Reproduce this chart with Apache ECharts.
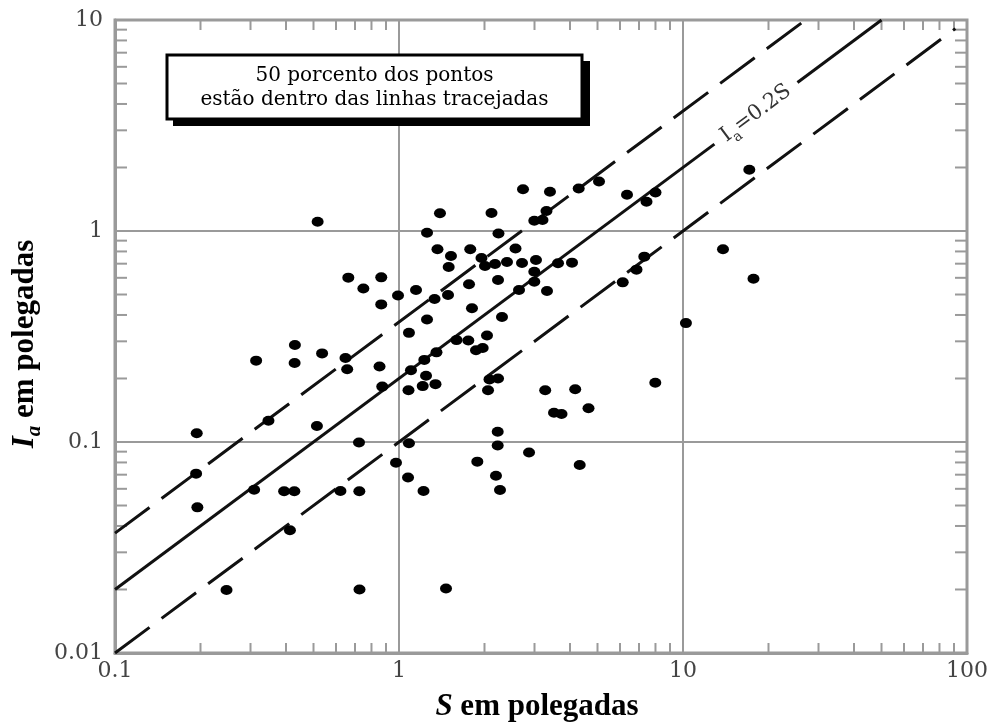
<!DOCTYPE html>
<html>
<head>
<meta charset="utf-8">
<script src="https://cdn.jsdelivr.net/npm/echarts@6/dist/echarts.min.js"></script>
<style>
html,body{margin:0;padding:0;background:#fff;}
#c{width:999px;height:726px;}
</style>
</head>
<body>
<div id="c"></div>
<script>
// ---- data ----
const sValues = [
  0.517,0.663,0.866,0.749,0.992,0.866,0.430,0.314,0.429,0.536,
  0.648,0.657,0.854,0.873,0.194,0.347,0.514,0.723,0.976,0.193,
  0.195,0.309,0.394,0.428,0.622,0.725,0.413,0.247,0.726,
  1.084,1.080,1.102,1.084,1.076,1.220,1.148,1.255,1.394,1.366,
  1.524,1.782,1.496,1.952,2.008,2.178,2.400,2.711,3.036,3.630,
  4.066,2.995,2.232,1.764,1.488,1.334,2.646,2.995,3.320,2.117,
  2.240,2.572,2.733,3.401,4.293,5.061,3.306,2.995,3.201,1.807,
  2.305,1.255,1.594,1.754,2.041,1.867,1.971,1.355,1.228,1.245,
  1.212,1.344,2.083,2.232,2.058,3.272,4.173,4.648,3.514,3.735,
  2.226,2.226,2.870,1.887,4.328,2.195,2.268,1.464,
  6.134,6.859,7.307,6.351,7.439,8.001,17.12,13.83,17.71,10.24,7.988
];
const iaValues = [
  1.107,0.601,0.603,0.534,0.495,0.449,0.288,0.243,0.237,0.263,
  0.250,0.221,0.228,0.183,0.110,0.126,0.119,0.0995,0.0798,0.0708,
  0.0490,0.0594,0.0584,0.0584,0.0586,0.0584,0.0382,0.0199,0.0200,
  0.329,0.176,0.219,0.0986,0.0679,0.0586,0.525,0.982,1.213,0.819,
  0.761,0.819,0.675,0.745,0.682,0.698,0.713,0.705,0.729,0.703,
  0.708,0.641,0.586,0.559,0.497,0.476,0.525,0.575,0.520,1.217,
  0.973,0.826,1.576,1.536,1.590,1.717,1.244,1.119,1.127,0.430,
  0.391,0.381,0.304,0.303,0.320,0.272,0.279,0.266,0.245,0.206,
  0.184,0.188,0.198,0.200,0.176,0.176,0.178,0.1446,0.1377,0.1358,
  0.1119,0.0962,0.0892,0.0807,0.0778,0.0692,0.0592,0.0202,
  0.571,0.656,0.756,1.486,1.377,1.522,1.952,0.819,0.594,0.366,0.191
];
// reference lines (S, Ia) end points
const solidLineA = [[0.1, 0.02], [12.9, 2.58]];
const solidLineB = [[25.3, 5.06], [50, 10]];
const upperDashed = [[0.1, 0.037], [27, 10]];
const lowerDashed = [[0.1, 0.01], [91, 9.1]];
const lineLabelAt = [18.07, 3.61];
// axes
const xTickLabels = ['0.1', '1', '10', '100'];
const yTickLabels = ['0.01', '0.1', '1', '10'];
const xMinorTicks = [0.2,0.3,0.4,0.5,0.6,0.7,0.8,0.9,2,3,4,5,6,7,8,9,20,30,40,50,60,70,80,90];
const yMinorTicks = [0.02,0.03,0.04,0.05,0.06,0.07,0.08,0.09,0.2,0.3,0.4,0.5,0.6,0.7,0.8,0.9,2,3,4,5,6,7,8,9];
const boxLines = ['50 porcento dos pontos', 'estão dentro das linhas tracejadas'];

const GREY = '#9a9a9a';
const INK = '#000';
const SERIF = 'DejaVu Serif';
const TICK = 10;

const chart = echarts.init(document.getElementById('c'));

function tickSeries(values, isX) {
  return {
    type: 'custom', silent: true, z: 1, clip: false,
    data: values.map(v => isX ? [v, 1] : [1, v]),
    renderItem: function (params, api) {
      const cs = params.coordSys;
      const st = { stroke: GREY, lineWidth: 2 };
      if (isX) {
        const x = api.coord([api.value(0), 1])[0];
        return { type: 'group', children: [
          { type: 'line', shape: { x1: x, y1: cs.y + cs.height, x2: x, y2: cs.y + cs.height - TICK }, style: st },
          { type: 'line', shape: { x1: x, y1: cs.y, x2: x, y2: cs.y + TICK }, style: st }
        ]};
      } else {
        const y = api.coord([1, api.value(1)])[1];
        return { type: 'group', children: [
          { type: 'line', shape: { x1: cs.x, y1: y, x2: cs.x + TICK + 2, y2: y }, style: st },
          { type: 'line', shape: { x1: cs.x + cs.width, y1: y, x2: cs.x + cs.width - TICK - 2, y2: y }, style: st }
        ]};
      }
    }
  };
}

const lineStyleSolid = { color: '#111', width: 3 };
const lineStyleDash = { color: '#111', width: 3, type: [43, 15] };

chart.setOption({
  animation: false,
  backgroundColor: '#fff',
  grid: { left: 115, right: 32, top: 20, bottom: 73, show: true, borderColor: GREY, borderWidth: 3, backgroundColor: 'transparent' },
  xAxis: {
    type: 'log', logBase: 10, min: 0.1, max: 100,
    axisLine: { show: true, lineStyle: { color: GREY, width: 3 } },
    axisTick: { show: false },
    splitLine: { show: true, lineStyle: { color: GREY, width: 2 } },
    axisLabel: {
      fontFamily: SERIF, fontSize: 22, color: '#444', margin: 7,
      formatter: v => xTickLabels[Math.round(Math.log10(v)) + 1]
    }
  },
  yAxis: {
    type: 'log', logBase: 10, min: 0.01, max: 10,
    axisLine: { show: true, lineStyle: { color: GREY, width: 3 } },
    axisTick: { show: false },
    splitLine: { show: true, lineStyle: { color: GREY, width: 2 } },
    axisLabel: {
      fontFamily: SERIF, fontSize: 22, color: '#444', margin: 12,
      formatter: v => yTickLabels[Math.round(Math.log10(v)) + 2]
    }
  },
  series: [
    tickSeries(xMinorTicks, true),
    tickSeries(yMinorTicks, false),
    { type: 'line', data: solidLineA, showSymbol: false, lineStyle: lineStyleSolid, z: 3 },
    { type: 'line', data: solidLineB, showSymbol: false, lineStyle: lineStyleSolid, z: 3 },
    { type: 'line', data: upperDashed, showSymbol: false, lineStyle: lineStyleDash, z: 3 },
    { type: 'line', data: lowerDashed, showSymbol: false, lineStyle: lineStyleDash, z: 3 },
    {
      type: 'scatter', z: 5,
      data: sValues.map((s, i) => [s, iaValues[i]]),
      symbol: 'circle', symbolSize: [12, 10],
      itemStyle: { color: INK, opacity: 1 }
    }
  ]
});

// annotations positioned through the chart's own scales
const p0 = chart.convertToPixel({ gridIndex: 0 }, solidLineA[0]);
const p1 = chart.convertToPixel({ gridIndex: 0 }, solidLineB[1]);
const ang = Math.atan2(p0[1] - p1[1], p1[0] - p0[0]);
const lp = chart.convertToPixel({ gridIndex: 0 }, lineLabelAt);

chart.setOption({
  graphic: [
    // text box with shadow
    { type: 'rect', z: 10, shape: { x: 173, y: 61, width: 417, height: 65 }, style: { fill: '#000' } },
    { type: 'rect', z: 11, shape: { x: 167, y: 55, width: 415, height: 64 }, style: { fill: '#fff', stroke: '#000', lineWidth: 3 } },
    { type: 'text', z: 12, x: 374.5, y: 76, style: { text: boxLines[0], font: '20px "' + SERIF + '"', fill: '#000', align: 'center', verticalAlign: 'middle' } },
    { type: 'text', z: 12, x: 374.5, y: 100, style: { text: boxLines[1], font: '20px "' + SERIF + '"', fill: '#000', align: 'center', verticalAlign: 'middle' } },
    // line label
    {
      type: 'text', z: 12, x: lp[0], y: lp[1], rotation: ang,
      style: {
        text: '{m|I}{s|a}{m|=0.2S}', align: 'center', verticalAlign: 'middle',
        rich: {
          m: { fontFamily: SERIF, fontSize: 21, lineHeight: 30, fill: '#333', color: '#333' },
          s: { fontFamily: SERIF, fontSize: 14, lineHeight: 30, verticalAlign: 'bottom', fill: '#333', color: '#333' }
        }
      }
    },
    // x title
    {
      type: 'text', z: 12, x: 537, y: 707,
      style: {
        text: '{i|S}{b| em polegadas}', align: 'center', verticalAlign: 'middle',
        rich: {
          i: { fontFamily: 'Liberation Serif', fontSize: 31, fontWeight: 'bold', fontStyle: 'italic', fill: '#000', color: '#000' },
          b: { fontFamily: 'Liberation Serif', fontSize: 31, fontWeight: 'bold', fill: '#000', color: '#000' }
        }
      }
    },
    // y title
    {
      type: 'text', z: 12, x: 25, y: 344, rotation: Math.PI / 2,
      style: {
        text: '{i|I}{s|a}{b| em polegadas}', align: 'center', verticalAlign: 'middle',
        rich: {
          i: { fontFamily: 'Liberation Serif', fontSize: 31, lineHeight: 40, fontWeight: 'bold', fontStyle: 'italic', fill: '#000', color: '#000' },
          s: { fontFamily: 'Liberation Serif', fontSize: 21, lineHeight: 40, verticalAlign: 'bottom', fontWeight: 'bold', fontStyle: 'italic', fill: '#000', color: '#000' },
          b: { fontFamily: 'Liberation Serif', fontSize: 31, lineHeight: 40, fontWeight: 'bold', fill: '#000', color: '#000' }
        }
      }
    }
  ]
});
</script>
</body>
</html>
